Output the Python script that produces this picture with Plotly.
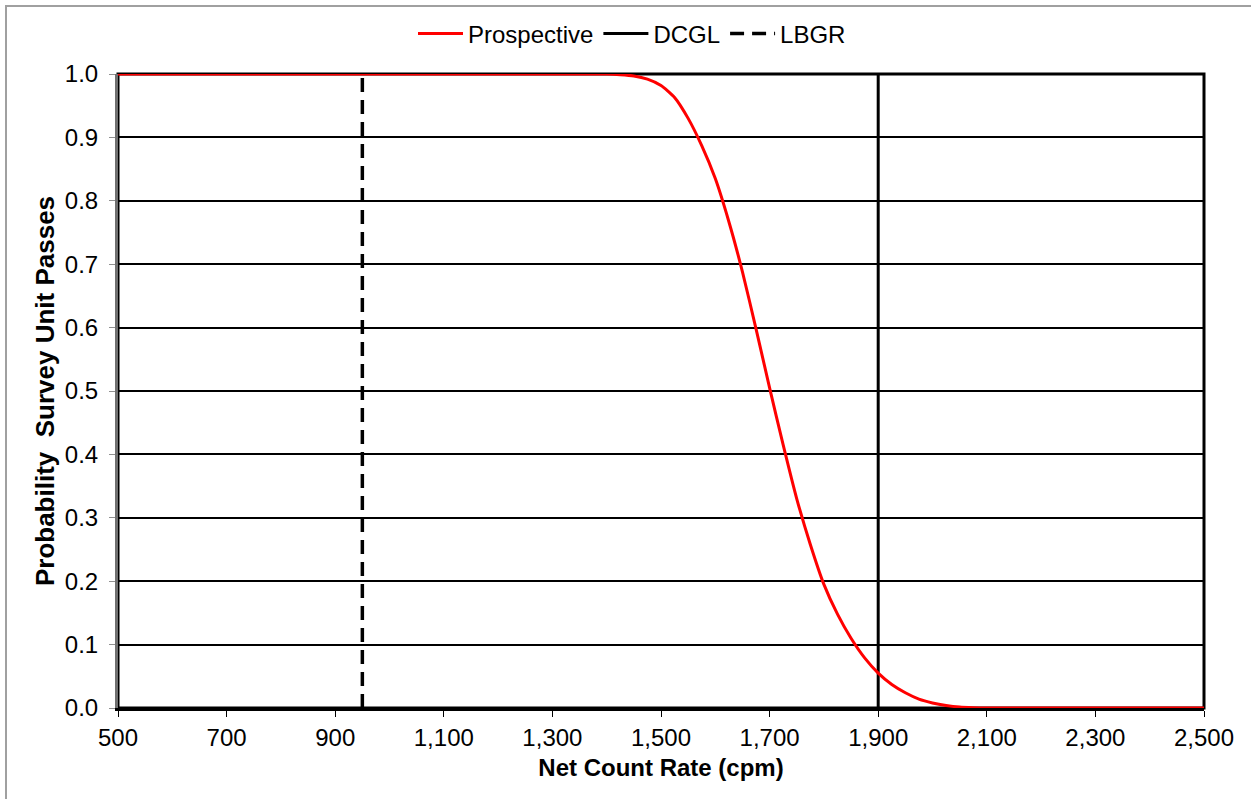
import plotly.graph_objects as go

# Data
rate_cpm = [500, 700, 900, 1100, 1300, 1400, 1425, 1450, 1475, 1500, 1525, 1550, 1575, 1600,
            1625, 1650, 1675, 1700, 1725, 1750, 1775, 1800, 1825, 1850, 1875, 1900,
            1925, 1950, 1975, 2000, 2025, 2050, 2075, 2100, 2300, 2500]
prob_pass = [1.0, 1.0, 1.0, 1.0, 1.0, 1.0, 0.999, 0.997, 0.992, 0.982, 0.963, 0.93, 0.887, 0.835,
             0.767, 0.688, 0.598, 0.505, 0.415, 0.33, 0.258, 0.195, 0.148, 0.11, 0.079, 0.055,
             0.037, 0.024, 0.014, 0.008, 0.004, 0.0015, 0.0005, 0.0, 0.0, 0.0]
dcgl_x = [1900, 1900]
lbgr_x = [950, 950]
vline_y = [0, 1]
x_ticks = [500, 700, 900, 1100, 1300, 1500, 1700, 1900, 2100, 2300, 2500]
y_ticks = [0.0, 0.1, 0.2, 0.3, 0.4, 0.5, 0.6, 0.7, 0.8, 0.9, 1.0]

fig = go.Figure()
fig.add_trace(go.Scatter(x=lbgr_x, y=vline_y, mode="lines", name="LBGR",
                         line=dict(color="black", width=3.5, dash="14px,8px")))
fig.add_trace(go.Scatter(x=dcgl_x, y=vline_y, mode="lines", name="DCGL",
                         line=dict(color="black", width=3)))
fig.add_trace(go.Scatter(x=rate_cpm, y=prob_pass, mode="lines", name="Prospective",
                         line=dict(color="#ff0000", width=3, shape="spline", smoothing=0.6)))

W, H = 1251, 799
L, R, T, B = 118, 1204, 74, 708
pw, ph = R - L, B - T

def px(x):
    return (x - L) / pw

def py(y):
    return (B - y) / ph

fig.add_shape(type="rect", xref="paper", yref="paper",
              x0=px(6), x1=px(1262), y0=py(810), y1=py(6),
              line=dict(color="#a0a0a0", width=2), layer="below")
fig.add_shape(type="rect", xref="paper", yref="paper", x0=0, x1=1, y0=0, y1=1,
              line=dict(color="black", width=3), layer="below")

font = "Liberation Sans, Arial, sans-serif"
fig.update_layout(
    width=W, height=H,
    margin=dict(l=L, r=W - R, t=T, b=H - B),
    paper_bgcolor="white", plot_bgcolor="white",
    font=dict(family=font, size=24, color="black"),
    legend=dict(orientation="h", x=px(632), xanchor="center", y=py(34), yanchor="middle",
                traceorder="reversed", font=dict(size=24), itemwidth=45,
                bgcolor="rgba(0,0,0,0)"),
    xaxis=dict(range=[500, 2500], tickvals=x_ticks, tickformat=",d",
               showgrid=False, zeroline=False, showline=True, linecolor="black", linewidth=3,
               ticks="outside", ticklen=6, tickcolor="black", tickwidth=1,
               tickfont=dict(size=24),
               title=dict(text="<b>Net Count Rate (cpm)</b>", font=dict(size=24), standoff=10)),
    yaxis=dict(range=[0, 1], tickvals=y_ticks, tickformat=".1f",
               showgrid=True, gridcolor="black", gridwidth=2, zeroline=False,
               showline=True, linecolor="#707070", linewidth=3,
               ticks="outside", ticklen=6, tickcolor="#909090", tickwidth=1,
               tickfont=dict(size=24), ticklabelstandoff=6,
               title=dict(text="<b>Probability  Survey Unit Passes</b>", font=dict(size=26), standoff=3)),
)
fig.write_html("out.html")
